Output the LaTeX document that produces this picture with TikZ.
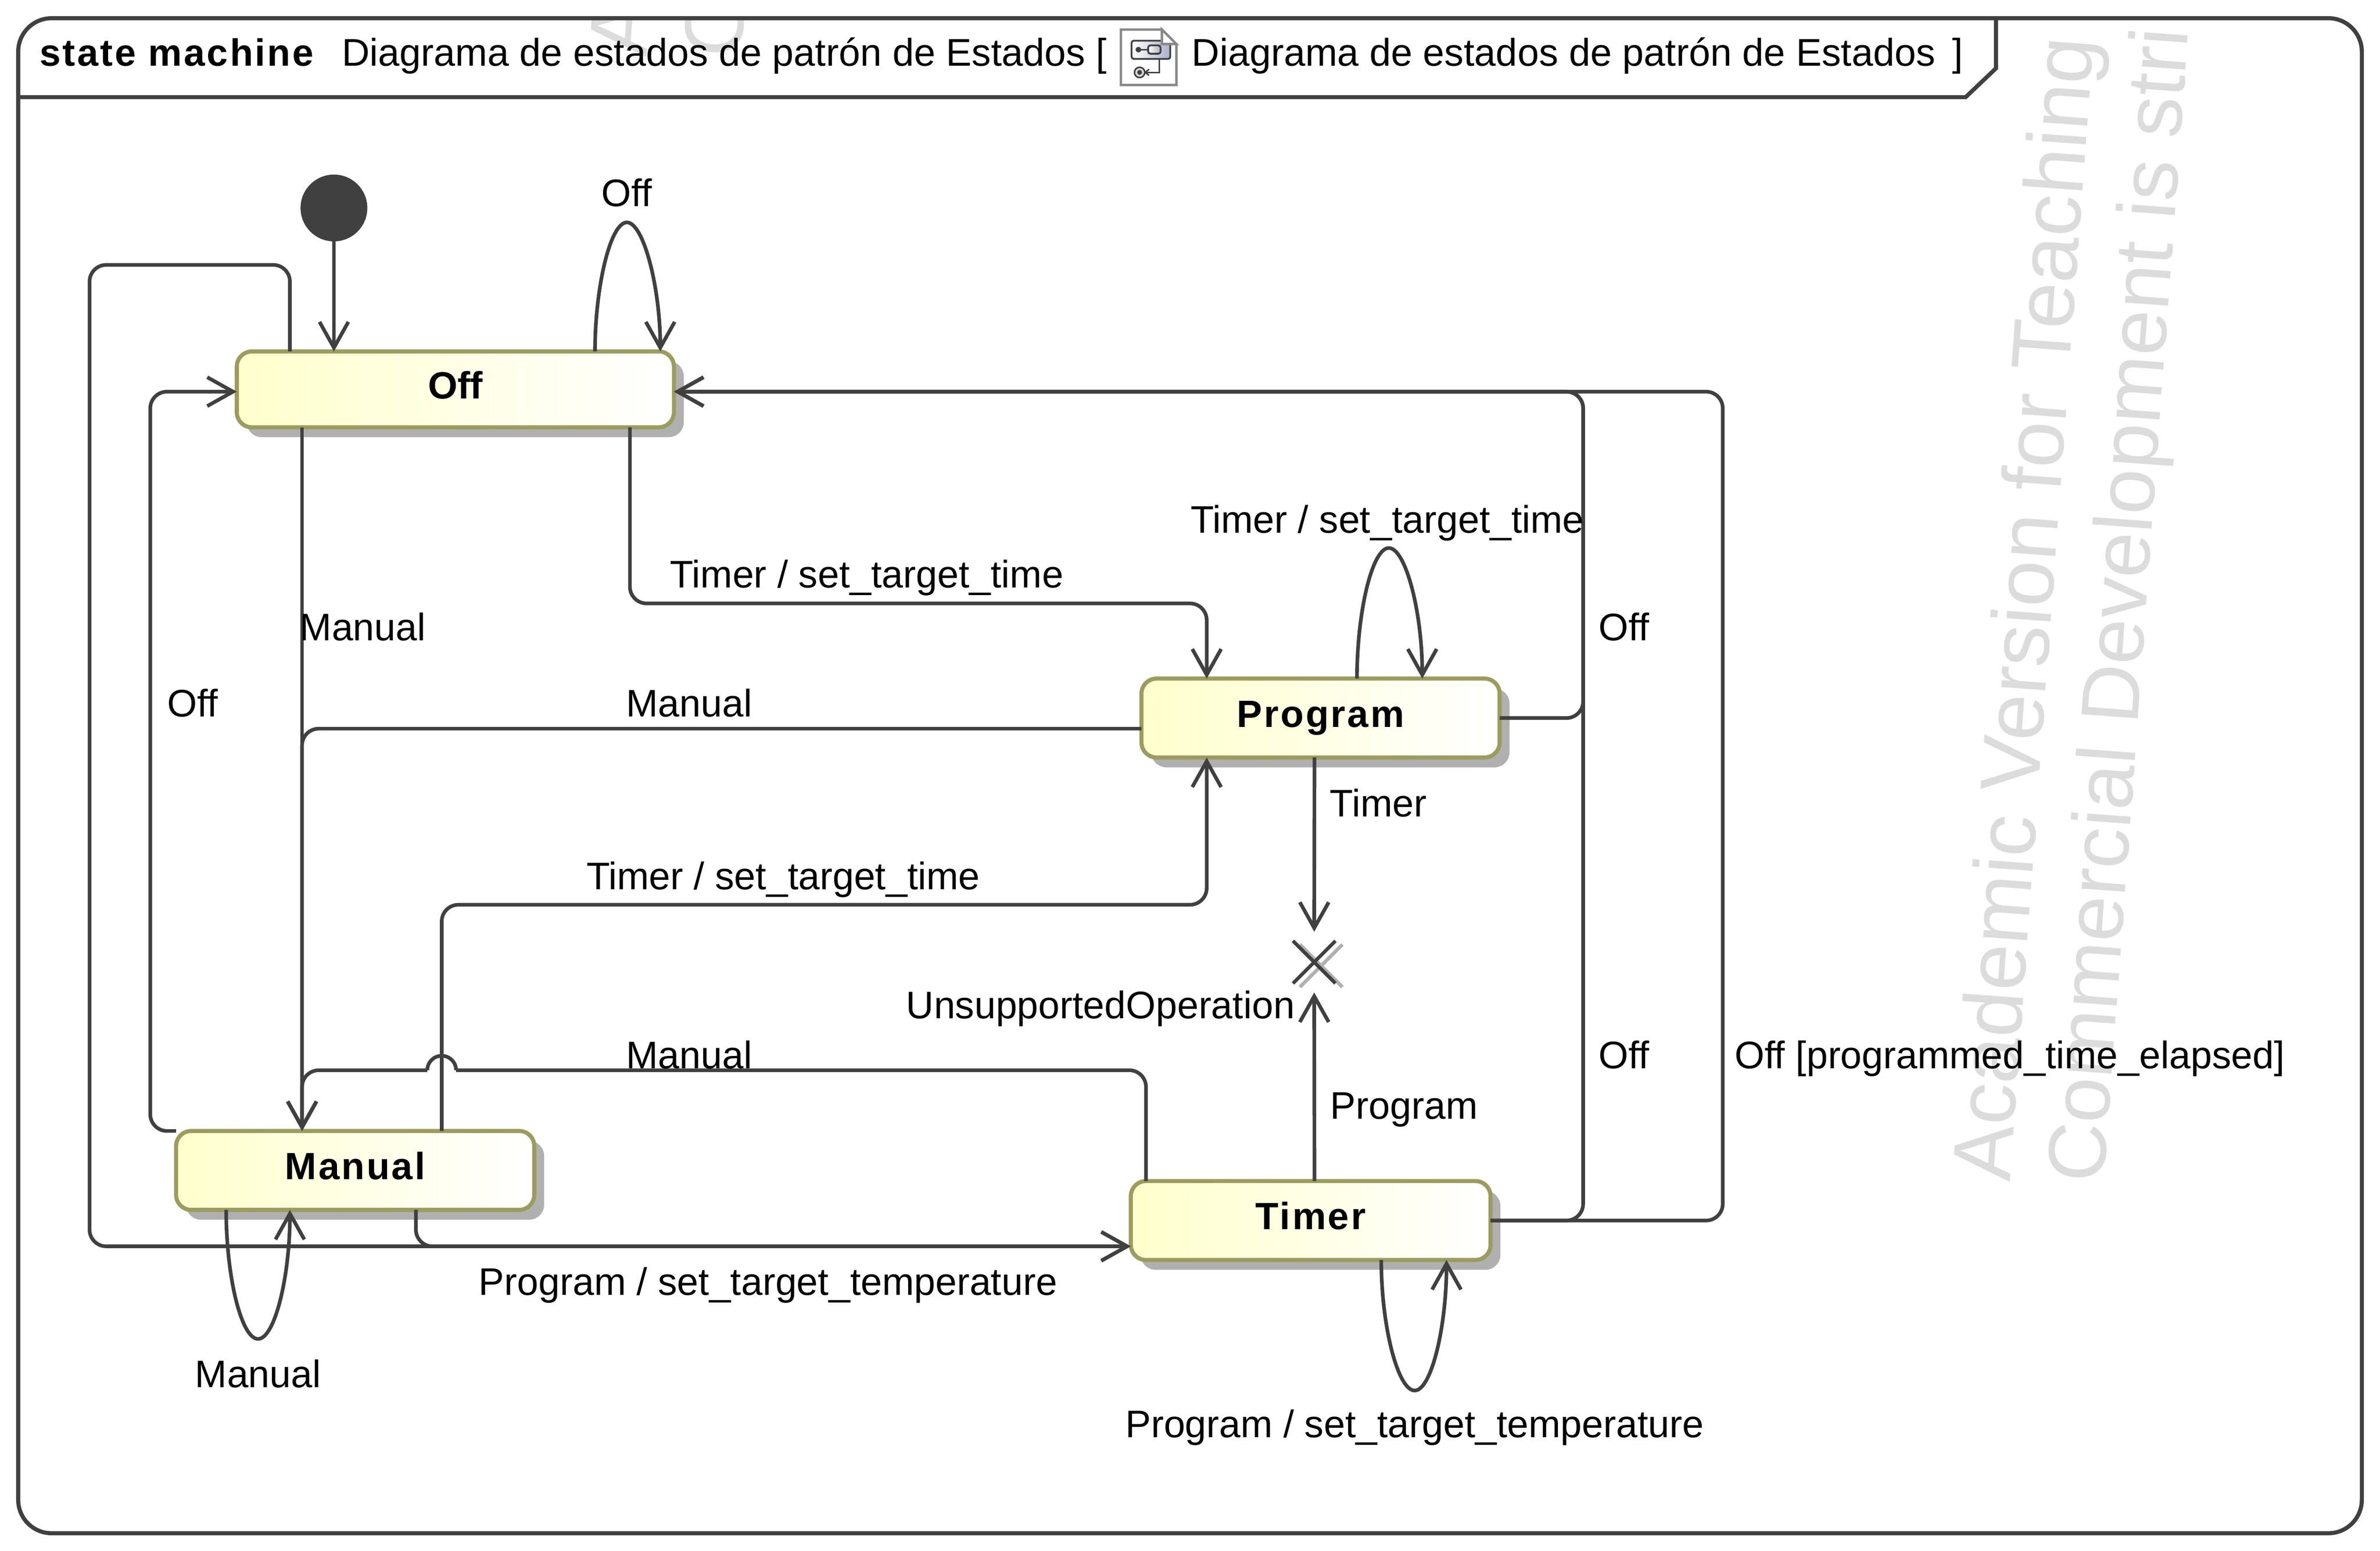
\documentclass[tikz,border=0pt]{standalone}
\usepackage{fontspec}
\setmainfont{Liberation Sans}
\newfontfamily\statefont[LetterSpace=5]{Liberation Sans}
\usetikzlibrary{arrows.meta,shadows,shapes.misc}
\definecolor{linegray}{HTML}{404040}
\definecolor{stateedge}{HTML}{9C9C60}
\definecolor{stateyellow}{HTML}{FFFFCC}
\definecolor{shadowgray}{HTML}{B0B0B0}
\definecolor{markgray}{HTML}{DCDCDC}
\definecolor{icongray}{HTML}{888888}
\definecolor{iconblue}{HTML}{ABB0CC}
\tikzset{
  flow/.style={draw=linegray, line width=2.4pt, rounded corners=11pt, -{Straight Barb[length=17pt,width=19pt]}},
  loopline/.style={draw=linegray, line width=2.4pt, -{Straight Barb[length=17pt,width=19pt]}},
  statebox/.style={draw=stateedge, line width=2.7pt, rounded corners=10pt, left color=stateyellow, right color=white,
    minimum width=#1, minimum height=50pt, inner sep=0pt, outer sep=0pt, text height=18pt, text depth=6pt,
    font=\fontsize{25}{30}\statefont\bfseries,
    drop shadow={shadow xshift=6.5pt, shadow yshift=-6.5pt, fill=shadowgray, opacity=1}},
  lbl/.style={anchor=base, inner sep=0pt, font=\fontsize{25.3}{30}\selectfont},
  hdr/.style={anchor=base west, inner sep=0pt, font=\fontsize{25.4}{30}\selectfont},
  wmark/.style={anchor=base west, inner sep=0pt, rotate=85.8, text=markgray, font=\fontsize{55}{60}\selectfont},
  stopcross/.style={cross out, draw=#1, line width=2.3pt, minimum size=28pt, inner sep=0pt, outer sep=0pt}
}
\begin{document}
\begin{tikzpicture}[x=1pt, y=-1pt]
  \useasboundingbox (0,0) rectangle (1568,1021.7);

  % watermark behind the frame
  \begin{scope}
    \clip (12,12) rectangle (1556,1010);
    \node[wmark] (markA) at (426,38) {A};
    \node[wmark] (markB) at (488,39) {C};
    \node[wmark] (markC) at (1324,779) {Academic Version for Teaching};
    \node[wmark, font=\fontsize{54}{60}\selectfont] (markD) at (1386,780) {Commercial Development is stri};
  \end{scope}

  % draw the frame and its header
  \draw[linegray, line width=2.7pt, rounded corners=22pt] (12,12) rectangle (1556,1010);
  \draw[linegray, line width=2.7pt] (12,64) -- (1295,64) -- (1315,45) -- (1315,12);
  \node[hdr, font=\fontsize{25}{30}\statefont\bfseries] (hdrKind) at (26,43.5) {state machine};
  \node[hdr] (hdrName) at (225,43.5) {Diagrama de estados de patrón de Estados [};
  \node[hdr] (hdrNameB) at (785,43.5) {Diagrama de estados de patrón de Estados};
  \node[hdr] (hdrEnd) at (1286,43.5) {]};

  % small document icon
  \draw[icongray, line width=1.6pt, fill=white] (738.5,19.5) -- (765.5,19.5) -- (775,29) -- (775,56) -- (738.5,56) -- cycle;
  \draw[linegray, line width=1.2pt, rounded corners=1.5pt, left color=white, right color=iconblue] (745.5,26.8) rectangle (771,38.8);
  \draw[icongray, line width=1.6pt, fill=white] (765.5,19.5) -- (775,29) -- (765.5,29) -- cycle;
  \draw[linegray, line width=1.2pt, rounded corners=1.5pt, left color=white, right color=shadowgray] (756.4,29.9) rectangle (764.6,35.4);
  \fill[linegray] (750,32.7) circle (1.8pt);
  \draw[linegray, line width=1pt] (750,32.7) -- (756.4,32.7);
  \draw[linegray, line width=1pt] (763.7,38.8) |- (754.5,47.7);
  \draw[linegray, line width=1pt] (757,45.7) -- (754.5,47.7) -- (757,49.7);
  \draw[linegray, line width=1pt, fill=shadowgray!50] (750.8,47.7) circle (3.4pt);
  \fill[linegray] (750.8,47.7) circle (1.6pt);

  % the states
  \node[circle, fill=linegray, minimum size=44pt, inner sep=0pt, outer sep=0pt] (init) at (220,137) {};
  \node[statebox=288pt, font=\fontsize{25}{30}\selectfont\bfseries] (off) at (300,256.5) {Off};
  \node[statebox=236pt, minimum height=52pt] (prog) at (870,473) {Program};
  \node[statebox=236pt, minimum height=52pt] (manual) at (234,771) {Manual};
  \node[statebox=237pt, minimum height=52pt] (timer) at (863.5,804) {Timer};
  \node[stopcross=shadowgray] (stopshade) at (870.4,636.2) {};
  \node[stopcross=linegray] (stopx) at (865.8,633.8) {};

  % transitions leaving off
  \draw[flow] (init) -- ([xshift=64pt]off.north west);
  \draw[loopline] ([xshift=236pt]off.north west) .. controls +(0,-42) and +(-11,0) .. ++(21,-85) .. controls +(11,0) and +(0,-42) .. ([xshift=279pt]off.north west);
  \draw[flow] ([xshift=35pt]off.north west) -- ++(0,-57) -- ++(-132,0) |- ([yshift=-43pt]timer.north west);
  \draw[flow] ([xshift=43pt]off.south west) -- ([xshift=83pt]manual.north west);
  \draw[flow] ([xshift=259pt]off.south west) -- ++(0,116) -| ([xshift=43pt]prog.north west);

  % transitions leaving program
  \draw[loopline] ([xshift=142pt]prog.north west) .. controls +(0,-44) and +(-11,0) .. ++(21,-86) .. controls +(11,0) and +(0,-44) .. ([xshift=185pt]prog.north west);
  \draw[flow] (prog.east) -- ++(55,0) |- ([yshift=-1.5pt]off.east);
  \draw[flow] ([yshift=-7pt]prog.west) -| ([xshift=83pt]manual.north west);
  \draw[flow, shorten >=6pt] ([xshift=114pt]prog.south west) -- (stopx);

  % transitions leaving manual
  \draw[flow] (manual.north west) -- ++(-17,0) |- ([yshift=-1.5pt]off.west);
  \draw[flow] ([xshift=175pt]manual.north west) -- ++(0,-149) -| ([xshift=43pt]prog.south west);
  \draw[flow] ([xshift=158pt]manual.south west) |- ([yshift=-43pt]timer.north west);
  \draw[loopline] ([xshift=33pt]manual.south west) .. controls +(0,44) and +(-11,0) .. ++(21,85) .. controls +(11,0) and +(0,44) .. ([xshift=75pt]manual.south west);

  % transitions leaving timer, one of them hops over the line from manual
  \coordinate (hop) at ([xshift=175pt,yshift=40pt]manual.north west);
  \draw[flow, -] ([xshift=10pt]timer.north west) |- ([xshift=9.5pt]hop);
  \draw[draw=linegray, line width=2.4pt] ([xshift=9.5pt]hop) arc[start angle=0, end angle=180, radius=9.5pt];
  \draw[flow] ([xshift=-9.5pt]hop) -| ([xshift=83pt]manual.north west);
  \draw[flow, shorten >=6pt] ([xshift=121pt]timer.north west) -- (stopx);
  \draw[flow] (timer.east) -- ++(61,0) |- ([yshift=-1.5pt]off.east);
  \draw[flow] (timer.east) -- ++(153,0) |- ([yshift=-1.5pt]off.east);
  \draw[loopline] ([xshift=165pt]timer.south west) .. controls +(0,44) and +(-11,0) .. ++(22,86) .. controls +(11,0) and +(0,44) .. ([xshift=208pt]timer.south west);

  % transition labels
  \node[lbl] (lblOffSelf) at (413,136) {Off};
  \node[lbl] (lblOffProg) at (571,387) {Timer / set\_target\_time};
  \node[lbl] (lblOffMan) at (239,422) {Manual};
  \node[lbl] (lblProgSelf) at (914,351) {Timer / set\_target\_time};
  \node[lbl] (lblProgOff) at (1070,422) {Off};
  \node[lbl] (lblProgMan) at (454,472) {Manual};
  \node[lbl] (lblManOff) at (127,472) {Off};
  \node[lbl] (lblProgStop) at (908,538) {Timer};
  \node[lbl] (lblManProg) at (516,586) {Timer / set\_target\_time};
  \node[lbl] (lblStop) at (725,671) {UnsupportedOperation};
  \node[lbl] (lblTimerMan) at (454,704) {Manual};
  \node[lbl] (lblTimerOff) at (1070,704) {Off};
  \node[lbl] (lblTimerOffB) at (1324,704) {Off [programmed\_time\_elapsed]};
  \node[lbl] (lblTimerStop) at (925,737) {Program};
  \node[lbl] (lblManTimer) at (506,853) {Program / set\_target\_temperature};
  \node[lbl] (lblManSelf) at (170,914) {Manual};
  \node[lbl] (lblTimerSelf) at (932,947) {Program / set\_target\_temperature};
\end{tikzpicture}
\end{document}
